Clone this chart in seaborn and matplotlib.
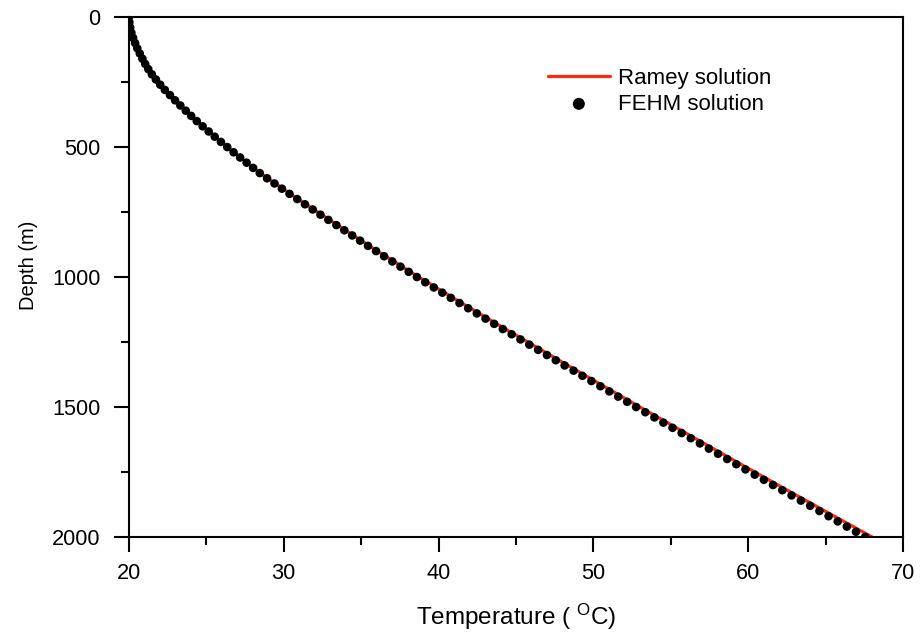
import numpy as np
import pandas as pd
import matplotlib
matplotlib.use("Agg")
import matplotlib.pyplot as plt
import seaborn as sns

# Ramey analytical solution
ramey_depth = [0, 25, 50, 100, 150, 200, 300, 400, 500, 600, 700, 800, 900, 1000,
               1100, 1200, 1300, 1400, 1500, 1600, 1700, 1800, 1900, 2000]
ramey_temp = [20.0, 20.04, 20.1, 20.4, 20.78, 21.25, 22.65, 24.38, 26.37, 28.48, 30.92,
              33.47, 36.05, 38.72, 41.5, 44.32, 47.2, 50.09, 53.0, 55.96, 58.93,
              61.92, 64.95, 68.0]

# FEHM numerical solution, one point every 20 m
fehm_depth = list(range(0, 2001, 20))
fehm_temp = [20.0, 20.03, 20.08, 20.16, 20.27, 20.40,
             20.54, 20.70, 20.87, 21.05, 21.25,
             21.48, 21.74, 22.02, 22.32, 22.65,
             22.98, 23.32, 23.67, 24.02, 24.38,
             24.76, 25.15, 25.54, 25.94, 26.35,
             26.76, 27.18, 27.6, 28.02, 28.45,
             28.92, 29.4, 29.88, 30.37, 30.87,
             31.37, 31.87, 32.37, 32.88, 33.4,
             33.91, 34.42, 34.93, 35.44, 35.96,
             36.48, 37.01, 37.54, 38.07, 38.6,
             39.14, 39.69, 40.24, 40.79, 41.35,
             41.91, 42.47, 43.03, 43.59, 44.15,
             44.72, 45.29, 45.86, 46.43, 47.0,
             47.57, 48.14, 48.72, 49.29, 49.87,
             50.45, 51.03, 51.6, 52.18, 52.76,
             53.35, 53.94, 54.52, 55.11, 55.7,
             56.29, 56.88, 57.46, 58.05, 58.64,
             59.23, 59.82, 60.42, 61.01, 61.6,
             62.2, 62.8, 63.4, 64.0, 64.6,
             65.19, 65.78, 66.37, 66.96, 67.55]

x_major = [20, 30, 40, 50, 60, 70]
y_major = [0, 500, 1000, 1500, 2000]

sns.set_style("ticks")
plt.rcParams["font.family"] = ["Liberation Sans", "DejaVu Sans"]
plt.rcParams["axes.linewidth"] = 1.5
plt.rcParams["text.color"] = "black"
plt.rcParams["axes.labelcolor"] = "black"
plt.rcParams["xtick.color"] = "black"
plt.rcParams["ytick.color"] = "black"

ramey = pd.DataFrame({"T": ramey_temp, "D": ramey_depth})
fehm = pd.DataFrame({"T": fehm_temp, "D": fehm_depth})

fig = plt.figure(figsize=(9.21, 6.34), dpi=100)
ax = fig.add_axes([0.140, 0.153, 0.8405, 0.820])

sns.lineplot(data=ramey, x="T", y="D", ax=ax, color="#ff2a0e", linewidth=2.3,
             sort=False, label="Ramey solution", zorder=2)
sns.scatterplot(data=fehm, x="T", y="D", ax=ax, color="black", s=38,
                edgecolor="none", label="FEHM solution", zorder=3)

ax.set_xlim(20, 70)
ax.set_ylim(2000, 0)
ax.set_xticks(x_major)
ax.set_yticks(y_major)
ax.set_xticks([25, 35, 45, 55, 65], minor=True)
ax.set_yticks([250, 750, 1250, 1750], minor=True)
ax.tick_params(axis="both", which="major", direction="out", length=10.5, width=1.5,
               labelsize=15.7, colors="black")
ax.tick_params(axis="x", which="major", pad=8)
ax.tick_params(axis="y", which="major", pad=10)
ax.tick_params(axis="both", which="minor", direction="out", length=5.5, width=1.5)
ax.tick_params(top=False, right=False)
for s in ax.spines.values():
    s.set_visible(True)
    s.set_linewidth(1.5)
    s.set_color("black")

ax.set_xlabel(r"Temperature ( $\mathregular{^{O}}$C)", fontsize=17.5, labelpad=13)
ax.set_ylabel("Depth (m)", fontsize=14.5)
ax.yaxis.set_label_coords(-0.118, 0.523)

leg = ax.legend(loc="center left", bbox_to_anchor=(0.541, 0.857), frameon=False,
                fontsize=16, handlelength=2.8, handletextpad=0.37,
                labelspacing=0.2, borderpad=0, borderaxespad=0, markerscale=1.4)

fig.savefig("out.png", dpi=100)
